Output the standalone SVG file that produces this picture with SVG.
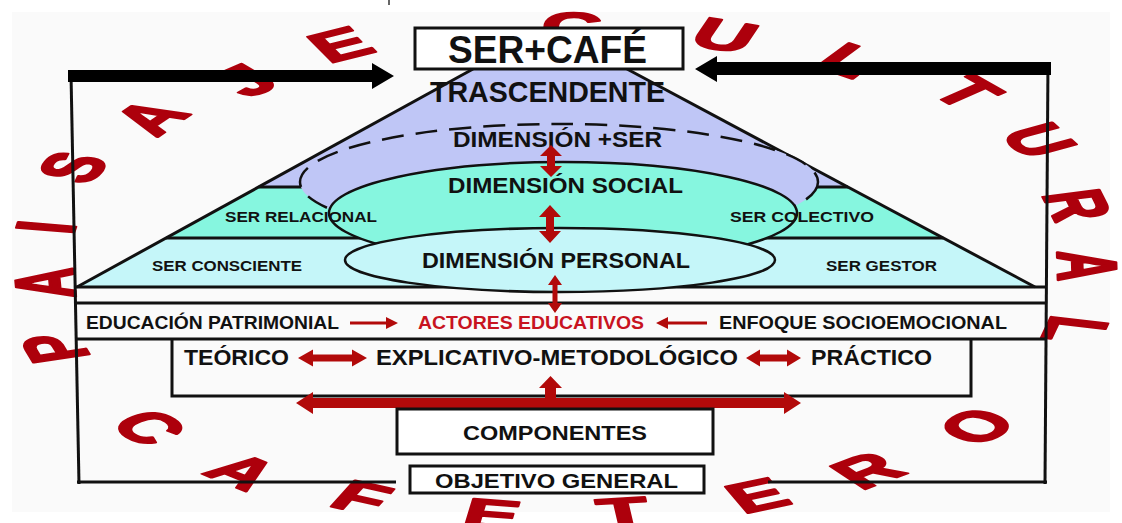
<svg xmlns="http://www.w3.org/2000/svg" width="1122" height="523" viewBox="0 0 1122 523">
<defs>
<style>
.t{font-family:"Liberation Sans",Arial,sans-serif;font-weight:bold;fill:#111}
.rl{font-family:"Liberation Sans",Arial,sans-serif;font-weight:bold;font-size:84px;fill:#ad000c;stroke:#ad000c;stroke-width:3.5;stroke-linejoin:round;text-anchor:middle}
.ln{stroke:#111;stroke-width:3;fill:none}
.bx{fill:#fff;stroke:#111;stroke-width:3}
.ra{fill:#b20a0a}
</style>
</defs>
<rect x="0" y="0" width="1122" height="523" fill="#fff"/>
<rect x="12" y="12" width="1098" height="500" fill="#fafafa"/>
<line x1="389" y1="0" x2="389" y2="5" stroke="#333" stroke-width="1.5"/>

<!-- curved title letters -->
<g id="paisaje-cultural-cafetero" transform="translate(566,270) scale(1,0.5)">
<g id="paisaje">
<text class="rl" transform="translate(-512,156) rotate(253.1)" y="30">P</text>
<text class="rl" transform="translate(-522,26) rotate(267.2)" y="30">A</text>
<text class="rl" transform="translate(-521,-86) rotate(279.3)" y="30">I</text>
<text class="rl" transform="translate(-494,-206) rotate(292.5)" y="30">S</text>
<text class="rl" transform="translate(-416,-306) rotate(306.3)" y="30">A</text>
<text class="rl" transform="translate(-320,-380) rotate(319.9)" y="30">J</text>
<text class="rl" transform="translate(-226,-452) rotate(333.4)" y="30">E</text>
</g>
<g id="cultural">
<text class="rl" transform="translate(6,-486) rotate(0.7)" y="30">C</text>
<text class="rl" transform="translate(159,-470) rotate(18.7)" y="30">U</text>
<text class="rl" transform="translate(284,-420) rotate(34.1)" y="30">L</text>
<text class="rl" transform="translate(402,-356) rotate(48.5)" y="30">T</text>
<text class="rl" transform="translate(474,-260) rotate(61.3)" y="30">U</text>
<text class="rl" transform="translate(512,-130) rotate(75.8)" y="30">R</text>
<text class="rl" transform="translate(522,-8) rotate(89.1)" y="30">A</text>
<text class="rl" transform="translate(510,120) rotate(103.2)" y="30">L</text>
</g>
<g id="cafetero">
<text class="rl" transform="translate(-416,314) rotate(53)" y="30">C</text>
<text class="rl" transform="translate(-323,402) rotate(38.8)" y="30">A</text>
<text class="rl" transform="translate(-204,454) rotate(24.2)" y="30">F</text>
<text class="rl" transform="translate(-74,488) rotate(8.6)" y="30">E</text>
<text class="rl" transform="translate(57,484) rotate(-6.7)" y="30">T</text>
<text class="rl" transform="translate(191,450) rotate(-23)" y="30">E</text>
<text class="rl" transform="translate(301,400) rotate(-37)" y="30">R</text>
<text class="rl" transform="translate(410,312) rotate(-52.7)" y="30">O</text>
</g>
</g>

<!-- pyramid -->
<g id="pyramid">
<polygon points="473,69 627,69 848,187 258.7,187" fill="#bfc6f6"/>
<polygon points="258.7,187 848,187 943.3,238 166,238" fill="#86f6df"/>
<polygon points="166,238 943.3,238 1035,287 77,287" fill="#c5f6f9"/>
<line class="ln" x1="258.7" y1="187" x2="848" y2="187" stroke-width="2.5"/>
<line class="ln" x1="166" y1="238" x2="943.3" y2="238" stroke-width="2.5"/>
<line class="ln" x1="77" y1="287" x2="473" y2="69" stroke-width="2.5"/>
<line class="ln" x1="627" y1="69" x2="1035" y2="287" stroke-width="2.5"/>
<line class="ln" x1="75" y1="287" x2="1047" y2="287" stroke-width="2.5"/>
</g>

<g id="trascendente">
<text class="t" x="430" y="102" font-size="30" textLength="235" lengthAdjust="spacingAndGlyphs">TRASCENDENTE</text>
</g>

<g id="dimension-mas-ser">
<ellipse cx="559" cy="182" rx="259" ry="58" fill="#bfc6f6" stroke="#111" stroke-width="2.5" stroke-dasharray="22,12"/>
<text class="t" x="453" y="147" font-size="22" textLength="209" lengthAdjust="spacingAndGlyphs">DIMENSIÓN +SER</text>
</g>

<g id="dimension-social">
<ellipse cx="563" cy="213" rx="234" ry="51" fill="#86f6df" stroke="#111" stroke-width="2.5"/>
<text class="t" x="448" y="193" font-size="22" textLength="235" lengthAdjust="spacingAndGlyphs">DIMENSIÓN SOCIAL</text>
</g>

<g id="dimension-personal">
<ellipse cx="560" cy="260" rx="215" ry="32" fill="#c5f6f9" stroke="#111" stroke-width="2.5"/>
<text class="t" x="422" y="268" font-size="22" textLength="268" lengthAdjust="spacingAndGlyphs">DIMENSIÓN PERSONAL</text>
</g>

<g id="ser-relacional"><text class="t" x="225" y="222" font-size="15.5" textLength="152" lengthAdjust="spacingAndGlyphs">SER RELACIONAL</text></g>
<g id="ser-colectivo"><text class="t" x="730" y="222" font-size="15.5" textLength="144" lengthAdjust="spacingAndGlyphs">SER COLECTIVO</text></g>
<g id="ser-consciente"><text class="t" x="152" y="271" font-size="15.5" textLength="150" lengthAdjust="spacingAndGlyphs">SER CONSCIENTE</text></g>
<g id="ser-gestor"><text class="t" x="826" y="271" font-size="15.5" textLength="111" lengthAdjust="spacingAndGlyphs">SER GESTOR</text></g>

<!-- frame and rows -->
<g id="frame">
<line class="ln" x1="71" y1="74" x2="79" y2="484" stroke-width="4.5"/>
<line class="ln" x1="1048" y1="62" x2="1045" y2="484" stroke-width="4.5"/>
<line class="ln" x1="77" y1="482" x2="396" y2="482" stroke-width="3.5"/>
<line class="ln" x1="768" y1="482" x2="1047" y2="482" stroke-width="3.5"/>
<line class="ln" x1="75" y1="303" x2="1047" y2="303"/>
<line class="ln" x1="76" y1="339" x2="1046" y2="339"/>
<polyline class="ln" points="172,339 172,396 971,396 971,339"/>
</g>

<g id="connectors">
<polygon fill="#000" points="68,70 372,70 372,63 394,76 372,89 372,82 68,82"/>
<polygon fill="#000" points="1051,62 717,62 717,56 695,69 717,82 717,75 1051,75"/>
<polygon class="ra" points="551,145 562,156 555,156 555,166 562,166 551,177 540,166 547,166 547,156 540,156"/>
<polygon class="ra" points="550,205 561,217 554,217 554,231 561,231 550,243 539,231 546,231 546,217 539,217"/>
<polygon class="ra" points="555,275 562,285 557.5,285 557.5,303 562,303 555,313 548,303 552.5,303 552.5,285 548,285"/>
<polygon class="ra" points="350,321.5 386,321.5 386,317 398,323 386,329 386,324.5 350,324.5"/>
<polygon class="ra" points="707,321.5 668,321.5 668,317 656,323 668,329 668,324.5 707,324.5"/>
<polygon class="ra" points="298,358 313,349.5 313,354.5 352,354.5 352,349.5 367,358 352,366.5 352,361.5 313,361.5 313,366.5"/>
<polygon class="ra" points="746,358 760,349.5 760,354.5 787,354.5 787,349.5 801,358 787,366.5 787,361.5 760,361.5 760,366.5"/>
<polygon class="ra" points="296,403 313,392 313,398 784,398 784,392 801,403 784,414 784,408 313,408 313,414"/>
<polygon class="ra" points="545,399 545,388 539,388 550.5,376 562,388 556,388 556,399"/>
</g>

<g id="educacion-patrimonial"><text class="t" x="86" y="329" font-size="19" textLength="253" lengthAdjust="spacingAndGlyphs">EDUCACIÓN PATRIMONIAL</text></g>
<g id="actores-educativos"><text class="t" x="418" y="329" font-size="19" style="fill:#c8131f" textLength="226" lengthAdjust="spacingAndGlyphs">ACTORES EDUCATIVOS</text></g>
<g id="enfoque-socioemocional"><text class="t" x="719" y="329" font-size="19" textLength="288" lengthAdjust="spacingAndGlyphs">ENFOQUE SOCIOEMOCIONAL</text></g>
<g id="teorico"><text class="t" x="184" y="365" font-size="22.5" textLength="105" lengthAdjust="spacingAndGlyphs">TEÓRICO</text></g>
<g id="explicativo"><text class="t" x="376" y="365" font-size="22.5" textLength="362" lengthAdjust="spacingAndGlyphs">EXPLICATIVO-METODOLÓGICO</text></g>
<g id="practico"><text class="t" x="811" y="365" font-size="22.5" textLength="121" lengthAdjust="spacingAndGlyphs">PRÁCTICO</text></g>

<g id="ser-cafe">
<rect class="bx" x="415" y="28" width="268" height="41"/>
<text class="t" x="448" y="63" font-size="38" textLength="199" lengthAdjust="spacingAndGlyphs">SER+CAFÉ</text>
</g>
<g id="componentes">
<rect class="bx" x="397" y="409" width="316" height="45"/>
<text class="t" x="463" y="440" font-size="21" textLength="184" lengthAdjust="spacingAndGlyphs">COMPONENTES</text>
</g>
<g id="objetivo-general">
<rect class="bx" x="410" y="466" width="294" height="27"/>
<text class="t" x="435" y="488" font-size="20" textLength="243" lengthAdjust="spacingAndGlyphs">OBJETIVO GENERAL</text>
</g>
</svg>
